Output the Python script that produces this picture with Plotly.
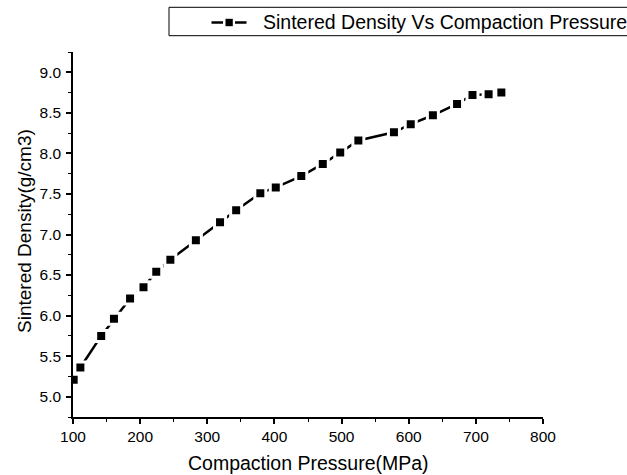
import plotly.graph_objects as go

pressure = [101, 111, 142, 161, 185, 205, 224, 245, 283, 319, 343, 379, 402, 440,
            472, 498, 525, 578, 603, 636, 672, 695, 719, 738]
density = [5.21, 5.36, 5.75, 5.96, 6.21, 6.35, 6.54, 6.69, 6.93, 7.15, 7.30, 7.51, 7.58, 7.72,
           7.87, 8.01, 8.16, 8.26, 8.36, 8.47, 8.61, 8.72, 8.73, 8.75]
series_name = "Sintered Density Vs Compaction Pressure"
x_title = "Compaction Pressure(MPa)"
y_title = "Sintered Density(g/cm3)"

font = "Liberation Sans, Arial, sans-serif"

W, H = 627, 475
L, R, T, B = 73, 84, 52, 58
PW, PH = W - L - R, H - T - B


def px(xp):
    return (xp - L) / PW


def py(yp):
    return (H - B - yp) / PH


fig = go.Figure()
fig.add_trace(go.Scatter(
    x=pressure, y=density, mode="lines+markers", name=series_name,
    line=dict(color="black", width=2.5),
    marker=dict(symbol="square", size=11, color="black", line=dict(color="white", width=3)),
    showlegend=False,
))

# legend drawn as a box (extends past right edge like the reference)
shapes = [
    dict(type="rect", xref="paper", yref="paper", x0=px(169), x1=px(660), y0=py(35.7), y1=py(7.3),
         line=dict(color="black", width=1), fillcolor="white", layer="above"),
    dict(type="line", xref="paper", yref="paper", x0=px(211.5), x1=px(223), y0=py(22.5), y1=py(22.5),
         line=dict(color="black", width=2.5)),
    dict(type="line", xref="paper", yref="paper", x0=px(235), x1=px(246.5), y0=py(22.5), y1=py(22.5),
         line=dict(color="black", width=2.5)),
    dict(type="rect", xref="paper", yref="paper", x0=px(225.5), x1=px(232.8), y0=py(26.2), y1=py(18.8),
         line=dict(width=0), fillcolor="black"),
]

annotations = [
    dict(text=series_name, xref="paper", yref="paper", x=px(261), y=py(22.5),
         xanchor="left", yanchor="middle", showarrow=False, font=dict(size=19.5, family=font)),
    dict(text=x_title, xref="paper", yref="paper", x=px(308), y=py(476),
         xanchor="center", yanchor="bottom", showarrow=False, font=dict(size=19.5, family=font)),
    dict(text=y_title, xref="paper", yref="paper", x=px(24), y=py(231), textangle=-90,
         xanchor="center", yanchor="middle", showarrow=False, font=dict(size=19, family=font)),
]

fig.update_layout(
    width=W, height=H,
    margin=dict(l=L, r=R, t=T, b=B, autoexpand=False),
    paper_bgcolor="white", plot_bgcolor="white",
    font=dict(family=font, color="black", size=15),
    showlegend=False,
    shapes=shapes,
    annotations=annotations,
    xaxis=dict(range=[100, 800], dtick=100, tick0=100, showgrid=False, zeroline=False,
               showline=True, linecolor="black", linewidth=1.5,
               ticks="outside", ticklen=5, tickwidth=1.5, tickcolor="black",
               minor=dict(dtick=50, ticks="outside", ticklen=3, tickwidth=1, tickcolor="black"),
               tickfont=dict(size=15.5), automargin=False),
    yaxis=dict(range=[4.75, 9.25], dtick=0.5, tick0=5, tickformat=".1f", showgrid=False, zeroline=False,
               showline=True, linecolor="black", linewidth=1.5,
               ticks="outside", ticklen=5, tickwidth=1.5, tickcolor="black",
               minor=dict(dtick=0.25, ticks="outside", ticklen=3, tickwidth=1, tickcolor="black"),
               tickfont=dict(size=15.5), ticklabelstandoff=2, automargin=False),
)

fig.write_html("out.html", config={"displayModeBar": False},
               post_script="document.body.style.margin='0';document.body.style.overflow='hidden';")
